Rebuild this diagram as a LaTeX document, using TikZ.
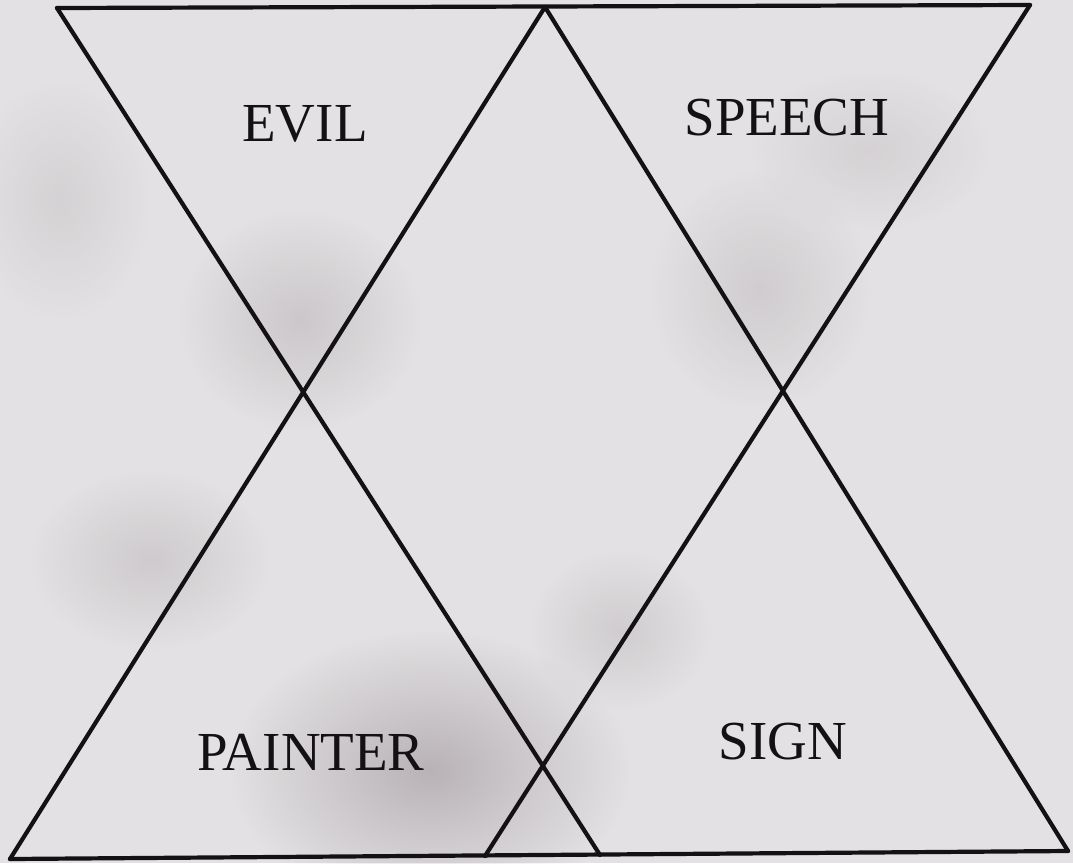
\documentclass[tikz,border=0pt]{standalone}
\usepackage{fontspec}
\setmainfont{Liberation Serif}
\usepackage{xcolor}
\usetikzlibrary{fadings}
\definecolor{canvas}{HTML}{E3E1E3}
\definecolor{stain}{HTML}{857A80}
\definecolor{ink}{HTML}{141114}
\tikzfading[name=softspot, inner color=transparent!0, outer color=transparent!100]

\begin{document}
\begin{tikzpicture}[
    x=1pt, y=-1pt,
    edge/.style={draw=ink, line width=4.2pt, line join=miter, line cap=round},
    word/.style={font=\fontsize{55}{60}\selectfont, text=ink, inner sep=0pt},
    blot/.style={fill=stain, path fading=softspot}
  ]

    % canvas and its stains
    \fill[canvas] (0,0) rectangle (1073,863);
    \useasboundingbox (0,0) rectangle (1073,863);
    \fill[blot, fill opacity=0.45] (430,770) ellipse (200 and 140);
    \fill[blot, fill opacity=0.25] (300,320) ellipse (120 and 110);
    \fill[blot, fill opacity=0.22] (150,560) ellipse (120 and 90);
    \fill[blot, fill opacity=0.20] (760,290) ellipse (110 and 120);
    \fill[blot, fill opacity=0.20] (620,630) ellipse (90 and 80);
    \fill[blot, fill opacity=0.15] (870,150) ellipse (120 and 80);
    \fill[blot, fill opacity=0.15] (60,200) ellipse (90 and 120);

    % corners of the four triangles
    \coordinate (tl) at (57,8);
    \coordinate (tm) at (545,7);
    \coordinate (tr) at (1030,5);
    \coordinate (bl) at (10,859);
    \coordinate (bml) at (485,856);
    \coordinate (bmr) at (600,855);
    \coordinate (br) at (1068,851);

    \draw[edge] (tl) -- (tr);
    \draw[edge] (bl) -- (br);
    \draw[edge] (tl) -- (bmr);
    \draw[edge] (tm) -- (bl);
    \draw[edge] (tm) -- (br);
    \draw[edge] (tr) -- (bml);

    \node[word] (evil) at (305,124) {EVIL};
    \node[word] (speech) at (787,118) {SPEECH};
    \node[word] (painter) at (311,752) {PAINTER};
    \node[word] (sign) at (783,742) {SIGN};

  \end{tikzpicture}
\end{document}
